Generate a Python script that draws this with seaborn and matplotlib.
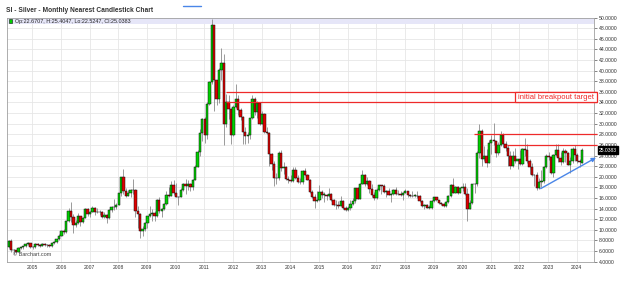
import matplotlib
matplotlib.use("Agg")
import matplotlib.pyplot as plt
import seaborn as sns
import pandas as pd
from matplotlib.lines import Line2D
from matplotlib.patches import Rectangle
import matplotlib.transforms as mtransforms

# ---------------- data (monthly, Mar 2004 .. Mar 2024) ----------------
start_month = "2004-03"
first_open = 6.69
last_open = 22.6707

closes = [
    7.97, 6.12, 6.11, 5.86, 6.57, 6.79, 6.95, 7.27, 7.47, 6.82,                      # 2004
    6.76, 7.36, 7.12, 6.98, 7.40, 7.09, 7.19, 6.87, 7.46, 7.71, 8.23, 8.83,          # 2005
    9.83, 9.62, 11.59, 13.59, 12.48, 10.88, 11.33, 12.58, 11.50, 12.29, 13.90, 12.90,  # 2006
    13.34, 14.05, 13.28, 13.44, 13.34, 12.40, 12.88, 12.16, 13.83, 14.30, 14.36, 14.76,  # 2007
    16.85, 19.88, 17.40, 16.40, 16.85, 17.50, 17.60, 13.60, 12.90, 9.80, 10.20, 11.30,  # 2008
    12.60, 13.00, 13.10, 12.60, 15.60, 13.60, 13.95, 14.85, 16.60, 16.40, 18.50, 16.90,  # 2009
    16.15, 16.20, 17.55, 18.70, 18.35, 18.70, 18.00, 19.45, 21.85, 24.60, 28.20, 30.90,  # 2010
    27.95, 33.80, 37.80, 48.60, 38.25, 34.60, 40.05, 41.40, 30.00, 34.10, 32.80, 27.90,  # 2011
    33.20, 34.60, 32.50, 31.20, 28.40, 27.60, 27.90, 31.00, 34.60, 32.20, 33.90, 30.00,  # 2012
    31.80, 28.50, 28.30, 24.30, 22.40, 19.70, 19.80, 24.40, 21.70, 21.90, 19.60, 19.40,  # 2013
    19.20, 21.20, 19.70, 19.00, 19.00, 21.00, 20.40, 19.40, 17.10, 16.20, 15.50, 15.60,  # 2014
    17.20, 16.60, 16.60, 16.30, 16.70, 15.60, 14.70, 14.60, 14.50, 15.50, 14.10, 13.80,  # 2015
    14.10, 14.90, 15.40, 17.80, 15.90, 18.70, 20.30, 18.70, 19.20, 17.70, 16.50, 16.00,  # 2016
    17.60, 18.40, 18.20, 17.10, 17.40, 16.60, 16.70, 17.50, 16.70, 16.70, 16.50, 17.00,  # 2017
    17.30, 16.50, 16.30, 16.40, 16.40, 16.30, 15.50, 14.50, 14.70, 14.20, 14.20, 15.50,  # 2018
    16.10, 15.60, 15.10, 14.90, 14.50, 15.30, 16.40, 18.40, 17.00, 18.10, 17.00, 17.90,  # 2019
    18.00, 16.70, 14.00, 15.00, 18.60, 18.60, 24.40, 28.70, 23.40, 23.90, 22.60, 26.40,  # 2020
    26.90, 26.70, 24.50, 25.90, 27.90, 26.10, 25.50, 23.90, 22.00, 24.00, 23.00, 23.30,  # 2021
    22.40, 25.30, 25.10, 23.00, 21.90, 20.30, 20.30, 17.80, 19.00, 19.20, 21.90, 24.00,  # 2022
    23.70, 20.80, 24.10, 25.10, 23.60, 22.80, 24.90, 24.40, 22.30, 22.90, 25.30, 24.10,  # 2023
    23.00, 22.70, 25.0383,                                                           # 2024
]

highs = [
    8.00, 8.29, 6.30, 6.25, 6.80, 6.85, 7.00, 7.45, 7.80, 7.60,
    6.95, 7.45, 7.55, 7.35, 7.50, 7.55, 7.30, 7.30, 7.50, 7.90, 8.30, 9.20,
    9.95, 10.20, 11.60, 14.10, 15.20, 12.90, 11.85, 13.25, 12.70, 12.45, 14.05, 14.10,
    13.50, 14.55, 14.30, 14.10, 13.70, 13.55, 13.30, 12.90, 13.95, 14.40, 15.80, 15.00,
    17.00, 19.90, 21.40, 17.90, 17.50, 17.70, 19.55, 17.70, 14.40, 13.20, 10.70, 11.50,
    12.70, 14.50, 13.90, 13.50, 15.80, 16.20, 14.20, 15.10, 17.40, 18.00, 19.20, 19.30,
    18.85, 16.40, 17.85, 18.90, 19.50, 19.35, 18.90, 19.50, 22.20, 25.00, 29.00, 31.00,
    31.20, 34.00, 38.10, 49.80, 48.60, 38.30, 40.50, 44.30, 43.10, 35.60, 35.40, 33.00,
    33.60, 37.50, 35.40, 33.00, 31.50, 29.30, 28.50, 31.10, 35.40, 35.00, 34.20, 34.10,
    32.40, 32.10, 29.30, 28.40, 24.50, 22.90, 20.70, 24.80, 25.10, 22.80, 22.10, 20.20,
    20.40, 21.80, 21.90, 20.30, 19.80, 21.20, 21.60, 20.60, 19.50, 17.50, 16.70, 17.30,
    18.50, 17.60, 17.10, 16.80, 17.80, 16.90, 15.80, 15.70, 15.40, 16.40, 15.60, 14.50,
    14.40, 15.70, 16.00, 17.90, 18.00, 18.80, 21.20, 20.60, 20.00, 19.40, 18.60, 17.20,
    17.90, 18.50, 18.50, 18.60, 17.60, 17.80, 16.90, 17.70, 18.00, 17.50, 17.40, 17.10,
    17.70, 17.40, 16.80, 17.35, 16.80, 17.30, 16.50, 15.60, 14.80, 14.80, 14.60, 15.60,
    16.20, 16.20, 15.70, 15.20, 15.00, 15.50, 16.60, 18.60, 19.70, 18.20, 18.20, 18.00,
    18.90, 18.90, 17.90, 15.60, 18.70, 18.90, 24.80, 29.90, 29.00, 25.80, 25.20, 26.90,
    27.80, 30.10, 26.80, 26.50, 28.70, 28.30, 26.70, 26.00, 24.80, 24.80, 25.40, 23.40,
    25.00, 25.40, 27.30, 26.20, 23.30, 22.50, 20.50, 20.90, 19.80, 21.30, 22.10, 24.30,
    24.60, 23.90, 24.30, 26.10, 26.20, 24.60, 25.40, 25.20, 24.60, 23.70, 25.60, 26.00,
    24.40, 23.40, 25.4047,
]

lows = [
    6.60, 5.85, 5.50, 5.70, 5.85, 6.40, 6.30, 6.85, 7.15, 6.50,
    6.40, 6.65, 6.95, 6.85, 6.90, 6.90, 6.85, 6.80, 6.75, 7.30, 7.55, 8.15,
    8.80, 9.20, 9.40, 11.50, 11.40, 9.50, 10.60, 11.10, 10.80, 11.25, 12.20, 12.60,
    12.40, 13.30, 12.75, 13.10, 12.80, 12.20, 12.20, 11.20, 12.00, 13.30, 13.80, 13.90,
    14.70, 16.30, 16.80, 16.20, 16.30, 16.10, 16.80, 12.50, 10.40, 8.40, 8.80, 9.70,
    10.40, 12.50, 11.60, 11.60, 12.35, 13.10, 12.45, 13.70, 14.70, 16.10, 16.30, 16.60,
    16.10, 14.70, 16.10, 17.40, 16.70, 17.60, 17.35, 17.60, 19.40, 21.80, 24.00, 26.80,
    26.30, 27.20, 33.60, 37.50, 32.30, 33.50, 33.90, 38.20, 26.00, 29.40, 30.80, 26.20,
    27.60, 33.00, 31.70, 30.60, 26.10, 26.10, 26.30, 27.10, 30.80, 31.60, 31.10, 29.70,
    29.90, 28.20, 28.10, 22.00, 21.30, 18.20, 18.60, 19.40, 21.10, 20.60, 19.30, 18.80,
    19.00, 19.10, 19.60, 18.80, 18.70, 18.60, 20.20, 19.30, 16.90, 16.00, 14.20, 15.20,
    15.40, 16.00, 15.30, 15.60, 16.10, 15.50, 14.50, 14.00, 14.20, 14.40, 13.90, 13.60,
    13.60, 13.80, 14.70, 15.10, 15.80, 15.80, 18.60, 18.20, 18.50, 16.90, 16.20, 15.70,
    15.80, 17.30, 16.80, 17.00, 16.20, 16.50, 15.20, 16.60, 16.60, 16.60, 16.40, 15.60,
    16.90, 16.10, 16.10, 16.10, 16.20, 16.00, 15.30, 14.30, 13.90, 14.10, 13.90, 14.00,
    15.30, 15.50, 14.80, 14.60, 14.30, 14.30, 15.10, 16.20, 16.90, 16.90, 16.70, 16.90,
    17.40, 16.50, 11.60, 13.90, 14.80, 17.00, 18.30, 23.60, 22.00, 23.00, 21.90, 22.50,
    24.20, 26.00, 23.80, 24.10, 25.80, 25.60, 24.80, 22.10, 21.40, 21.90, 22.60, 21.40,
    22.20, 22.20, 24.00, 22.60, 20.50, 20.10, 18.20, 17.60, 17.70, 18.10, 18.80, 21.70,
    23.10, 20.50, 19.90, 23.90, 22.70, 22.30, 22.60, 22.70, 22.20, 20.70, 22.60, 22.90,
    22.50, 21.90, 22.5247,
]

year_ticks = list(range(2005, 2025))
price_ticks = list(range(4, 51, 2))

# annotations
target_levels = [36.0, 34.0]          # "initial breakpout target" band
resistance_high = 28.0
resistance_low = 26.0
trend_start = (2022.74, 17.77)
trend_end = (2024.67, 23.6)
last_price_label = "25.0383"
ohlc_text = "Op:22.6707, H:25.4047, Lo:22.5247, Cl:25.0383"

# ---------------- build frame ----------------
dates = pd.date_range(start_month, periods=len(closes), freq="MS")
opens = [first_open] + closes[:-1]
opens[-1] = last_open
df = pd.DataFrame({
    "t": dates.year + (dates.month - 0.8) / 12.0,
    "open": opens, "high": highs, "low": lows, "close": closes,
})
df["up"] = df["close"] >= df["open"]
df["bottom"] = df[["open", "close"]].min(axis=1)
df["height"] = (df["close"] - df["open"]).abs().clip(lower=0.08)

# ---------------- style ----------------
sns.set_style("white")
plt.rcParams["font.family"] = ["Liberation Sans", "DejaVu Sans"]

W, H = 624, 283
fig = plt.figure(figsize=(W / 100, H / 100), dpi=100)
ax = fig.add_axes([7 / W, 21.3 / H, 587 / W, 244.2 / H])
ax.set_xlim(2004.119, 2024.60)
ax.set_ylim(4, 50)

ax.set_xticks(year_ticks)
ax.set_xticklabels([str(y) for y in year_ticks])
ax.set_yticks(price_ticks)
ax.set_yticklabels([f"{v:.4f}" for v in price_ticks])
ax.yaxis.tick_right()
ax.grid(True, color="#e6e6e6", lw=0.6)
ax.set_axisbelow(True)
ax.tick_params(axis="y", labelsize=3.7, colors="#555555", labelcolor="#333333",
               length=2.5, width=0.5, pad=1.2)
ax.tick_params(axis="x", labelsize=3.6, labelcolor="#333333", length=0, pad=2.2)
for s in ax.spines.values():
    s.set_color("#a0a0a0")
    s.set_linewidth(0.6)

# legend band at top
ax.axhspan(48.8, 50, color="#e6e6f8", zorder=1, lw=0)

# wicks + bodies
ax.vlines(df["t"], df["low"], df["high"], color="#8a8a8a", lw=0.6, zorder=2)
ax.bar(df["t"], df["height"], bottom=df["bottom"], width=0.082,
       color=["#00d000" if u else "#dd0000" for u in df["up"]],
       edgecolor="#111111", linewidth=0.35, zorder=3)

# red target lines / box
red = "#ee2a2a"
ax.hlines(target_levels, 2011.76, 2024.71, color=red, lw=0.9, zorder=4, clip_on=False)
ax.hlines([resistance_high], 2020.40, 2024.71, color=red, lw=0.9, zorder=4, clip_on=False)
ax.hlines([resistance_low], 2021.57, 2024.71, color=red, lw=0.9, zorder=4, clip_on=False)
ax.add_patch(Rectangle((2021.85, target_levels[1]), 2024.71 - 2021.85,
                       target_levels[0] - target_levels[1], facecolor="white",
                       edgecolor=red, lw=0.9, zorder=5, clip_on=False))
ax.text((2021.85 + 2024.71) / 2, sum(target_levels) / 2, "initial breakpout target",
        color=red, fontsize=5.5, ha="center", va="center", zorder=6)

# blue trend arrow
ax.annotate("", xy=trend_end, xytext=trend_start, annotation_clip=False,
            arrowprops=dict(arrowstyle="-|>", color="#4a86e8", lw=1.0,
                            mutation_scale=6, shrinkA=0, shrinkB=0), zorder=6)

# last price box on the right axis
trans = mtransforms.blended_transform_factory(ax.transAxes, ax.transData)
ax.text(1.0085, closes[-1], last_price_label, transform=trans, fontsize=3.6,
        color="white", ha="left", va="center", zorder=7, clip_on=False,
        bbox=dict(boxstyle="square,pad=0.25", facecolor="black", edgecolor="black"))

# header texts
fig.text(6 / W, 1 - 11 / H, "SI - Silver - Monthly Nearest Candlestick Chart",
         fontsize=4.8, fontweight="bold", color="#333333", va="center", ha="left")
fig.add_artist(Line2D([183 / W, 201 / W], [1 - 6 / H, 1 - 6 / H], color="#4a86e8", lw=1.0))
fig.add_artist(Rectangle((8.5 / W, 1 - 23.3 / H), 4 / W, 4 / H, facecolor="#00d000",
                         edgecolor="#111111", lw=0.4))
fig.text(15 / W, 1 - 21.2 / H, ohlc_text, fontsize=3.9, color="#222222", va="center", ha="left")
fig.text(13 / W, 1 - 255 / H, "\u00a9 Barchart.com", fontsize=4.0, color="#444444",
         va="center", ha="left")

fig.savefig("out.png", dpi=100)
